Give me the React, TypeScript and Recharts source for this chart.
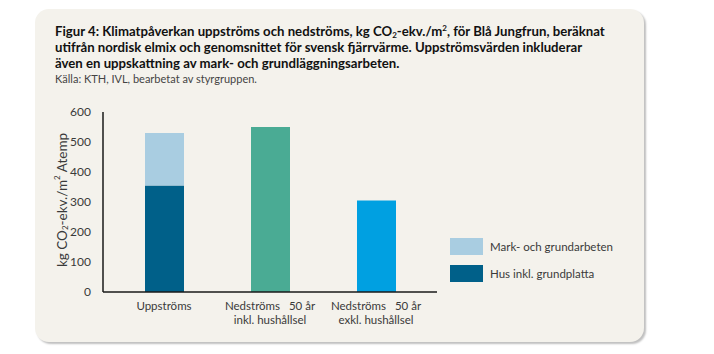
import { BarChart, Bar, XAxis, YAxis, Cell } from 'recharts';

const categories = ['Uppströms', 'Nedströms   50 år\ninkl. hushållsel', 'Nedströms   50 år\nexkl. hushållsel'];
const husValues = [355, 550, 305];
const markValues = [175, 0, 0];
const yTicks = [0, 100, 200, 300, 400, 500, 600];
const legendItems = ['Mark- och grundarbeten', 'Hus inkl. grundplatta'];

const baseColors = ['#006089', '#4aab94', '#00a0e1'];
const lightBlue = '#a9cde1';
const font = 'Lato, "Open Sans", sans-serif';

const chartData = categories.map((c, i) => ({ category: c, hus: husValues[i], mark: markValues[i] }));

function XTick({ x, y, payload }: any) {
  const lines = String(payload.value).split('\n');
  return (
    <text x={x} y={y} textAnchor="middle" fontSize={11.5} fill="#3a3a3a" fontFamily={font} style={{ whiteSpace: 'pre' }}>
      {lines.map((l, i) => (
        <tspan key={i} x={x} dy={i === 0 ? 10 : 14} xmlSpace="preserve">{l}</tspan>
      ))}
    </text>
  );
}

function YLabel({ viewBox }: any) {
  const cx = 62;
  const cy = viewBox.y + viewBox.height / 2 - 2;
  return (
    <text x={cx} y={cy} transform={`rotate(-90 ${cx} ${cy})`} textAnchor="middle" dominantBaseline="central" fontSize={13.5} fill="#3a3a3a" fontFamily={font}>
      kg CO<tspan fontSize={8} dy={3}>2</tspan><tspan dy={-3}>-ekv./m</tspan><tspan fontSize={8} dy={-5}>2</tspan><tspan dy={5}> Atemp</tspan>
    </text>
  );
}

const small = { fontSize: 8, position: 'relative' as const, lineHeight: 0 };

export default function App() {
  return (
    <div style={{ position: 'absolute', left: 0, top: 0, width: 714, height: 354, background: '#fff', fontFamily: font }}>
      <div style={{ position: 'absolute', left: 35, top: 9, width: 609, height: 333, borderRadius: 14, background: '#f4f2ec', boxShadow: '2px 2px 2px rgba(0,0,0,0.25)' }} />
      <div style={{ position: 'absolute', left: 55, top: 23, color: '#111', fontSize: 13.2, fontWeight: 700, lineHeight: '16px', whiteSpace: 'nowrap' }}>
        <div>Figur 4: Klimatpåverkan uppströms och nedströms, kg CO<span style={{ ...small, top: 2 }}>2</span>-ekv./m<span style={{ ...small, top: -5 }}>2</span>, för Blå Jungfrun, beräknat</div>
        <div>utifrån nordisk elmix och genomsnittet för svensk fjärrvärme. Uppströmsvärden inkluderar</div>
        <div>även en uppskattning av mark- och grundläggningsarbeten.</div>
        <div style={{ fontWeight: 400, fontSize: 11, color: '#444', lineHeight: '15px' }}>Källa: KTH, IVL, bearbetat av styrgruppen.</div>
      </div>
      <div style={{ position: 'absolute', left: 0, top: 0 }}>
        <BarChart width={714} height={354} data={chartData} margin={{ top: 112, right: 277, bottom: 32, left: 43 }} barSize={39}>
          <XAxis dataKey="category" tick={<XTick />} tickLine={false} axisLine={{ stroke: '#1a1a1a', strokeWidth: 1.5 }} height={30} padding={{ left: 8, right: 8 }} interval={0} />
          <YAxis domain={[0, 600]} ticks={yTicks} width={60} tickLine={false} tickMargin={6} axisLine={{ stroke: '#1a1a1a', strokeWidth: 1.5 }} tick={{ fontSize: 12, fill: '#3a3a3a', fontFamily: font }} label={<YLabel />} />
          <Bar dataKey="hus" stackId="a" isAnimationActive={false}>
            {chartData.map((_, i) => (
              <Cell key={i} fill={baseColors[i]} />
            ))}
          </Bar>
          <Bar dataKey="mark" stackId="a" fill={lightBlue} isAnimationActive={false} />
        </BarChart>
      </div>
      {legendItems.map((t, i) => (
        <div key={t} style={{ position: 'absolute', left: 450, top: 238 + i * 27, display: 'flex', alignItems: 'center', fontSize: 11.5, color: '#3a3a3a', whiteSpace: 'nowrap' }}>
          <div style={{ width: 33, height: 17, background: i === 0 ? lightBlue : baseColors[0], marginRight: 7 }} />
          {t}
        </div>
      ))}
    </div>
  );
}
